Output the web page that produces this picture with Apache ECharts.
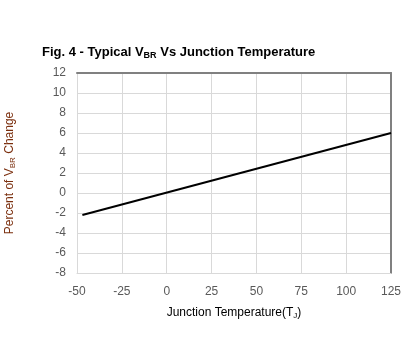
<!DOCTYPE html>
<html>
<head>
<meta charset="utf-8">
<script src="https://cdn.jsdelivr.net/npm/echarts@6/dist/echarts.min.js"></script>
<style>
  html, body { margin: 0; padding: 0; background: #fff; }
  #chart { width: 408px; height: 354px; }
</style>
</head>
<body>
<div id="chart"></div>
<script>
// junction temperature (°C) vs percent change of VBR
const temps = [-47, 125];
const vbrChange = [-2.2, 6.0];
const xTicks = [-50, 125, 25];   // min, max, interval
const yTicks = [-8, 12, 2];

const chart = echarts.init(document.getElementById("chart"));
const font = "Arial, 'Liberation Sans', sans-serif";

chart.setOption({
  animation: false,
  title: {
    text: "{b|Fig. 4 - Typical V}{s|BR}{b| Vs Junction Temperature}",
    left: 37,
    top: 40,
    textStyle: {
      rich: {
        b: { fontFamily: font, fontSize: 13, fontWeight: "bold", color: "#000" },
        s: { fontFamily: font, fontSize: 9, fontWeight: "bold", color: "#000", verticalAlign: "bottom", padding: [6, 0, 0, 0] },
      },
    },
  },
  grid: { left: 77, right: 17, top: 73, bottom: 81, outerBoundsMode: "none", containLabel: false },
  xAxis: [
    {
      type: "value",
      min: xTicks[0],
      max: xTicks[1],
      interval: xTicks[2],
      name: "{n|Junction Temperature(T}{s|J}{n|)}",
      nameLocation: "middle",
      nameGap: 33,
      nameTextStyle: {
        rich: {
          n: { fontFamily: font, fontSize: 12, color: "#000" },
          s: { fontFamily: font, fontSize: 8, color: "#000", padding: [6, 0, 0, 0] },
        },
      },
      axisLabel: { color: "#595959", fontFamily: font, fontSize: 12, margin: 13 },
      axisTick: { show: false },
      axisLine: { onZero: false, lineStyle: { color: "#d9d9d9", width: 1 } },
      splitLine: { lineStyle: { color: "#d9d9d9" } },
    },
    {
      type: "value",
      position: "top",
      min: xTicks[0],
      max: xTicks[1],
      axisLabel: { show: false },
      axisTick: { show: false },
      splitLine: { show: false },
      axisLine: { onZero: false, lineStyle: { color: "#808080", width: 2 } },
    },
  ],
  yAxis: [
    {
      type: "value",
      min: yTicks[0],
      max: yTicks[1],
      interval: yTicks[2],
      name: "{n|Percent of V}{s|BR}{n| Change}",
      nameLocation: "middle",
      nameGap: 60,
      nameTextStyle: {
        rich: {
          n: { fontFamily: font, fontSize: 12, color: "#7b2f0e" },
          s: { fontFamily: font, fontSize: 8, color: "#7b2f0e", padding: [6, 0, 0, 0] },
        },
      },
      axisLabel: { color: "#595959", fontFamily: font, fontSize: 12, margin: 11 },
      axisTick: { show: false },
      axisLine: { show: true, onZero: false, lineStyle: { color: "#d9d9d9", width: 1 } },
      splitLine: { lineStyle: { color: "#d9d9d9" } },
    },
    {
      type: "value",
      position: "right",
      min: yTicks[0],
      max: yTicks[1],
      axisLabel: { show: false },
      axisTick: { show: false },
      splitLine: { show: false },
      axisLine: { show: true, onZero: false, lineStyle: { color: "#808080", width: 2 } },
    },
  ],
  series: [
    {
      type: "line",
      data: temps.map((t, i) => [t, vbrChange[i]]),
      showSymbol: false,
      lineStyle: { color: "#000", width: 2 },
    },
  ],
});
</script>
</body>
</html>
